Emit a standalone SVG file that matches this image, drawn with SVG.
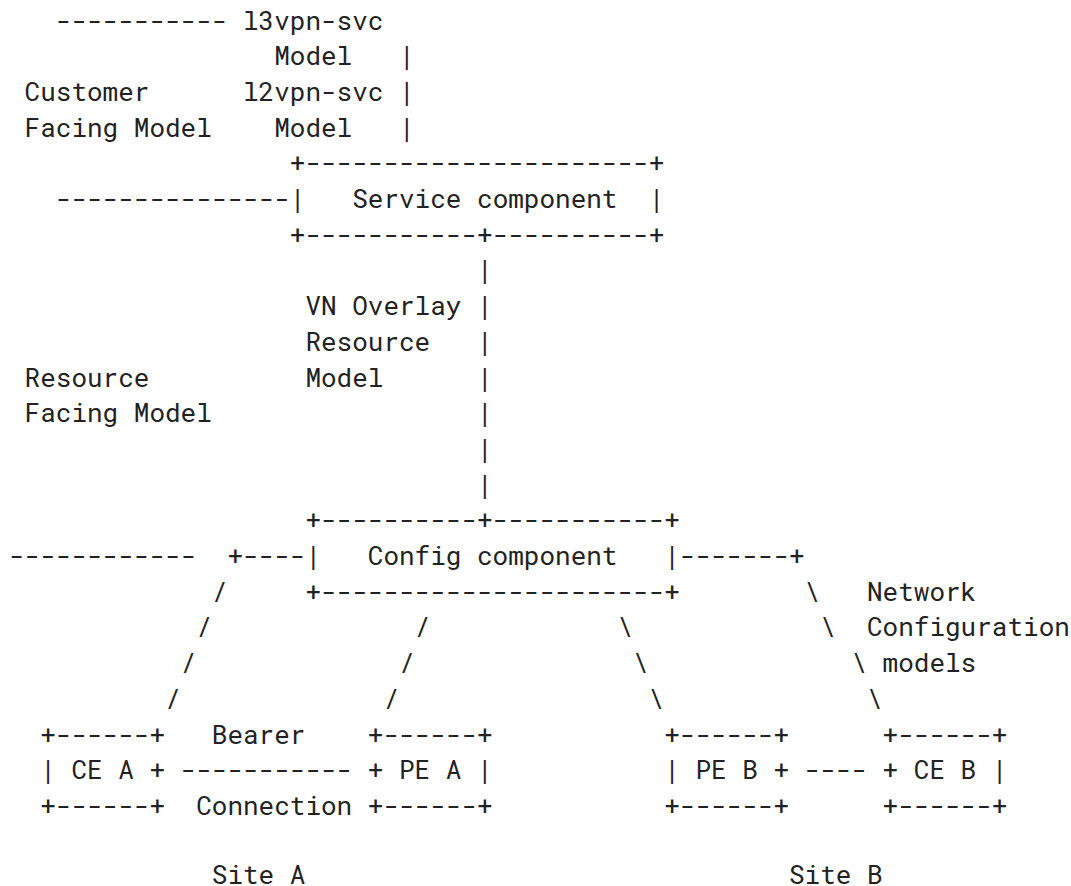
<svg xmlns="http://www.w3.org/2000/svg" width="1071" height="886" viewBox="0 0 1071 886" xml:space="preserve">
<style>
text { font-family: "Roboto Mono", "Liberation Mono", "DejaVu Sans Mono", monospace; font-size: 26px; fill: #222; white-space: pre; }
</style>
<rect width="1071" height="886" fill="#fff"/>
<g id="labels">
<text x="243" y="29.5">l3vpn-svc</text>
<text x="274.2" y="65.2">Model</text>
<text x="24.6" y="100.9">Customer</text>
<text x="243" y="100.9">l2vpn-svc</text>
<text x="24.6" y="136.6">Facing Model</text>
<text x="274.2" y="136.6">Model</text>
<text x="305.4" y="315.1">VN Overlay</text>
<text x="305.4" y="350.8">Resource</text>
<text x="24.6" y="386.5">Resource</text>
<text x="305.4" y="386.5">Model</text>
<text x="24.6" y="422.2">Facing Model</text>
<text x="867" y="600.7">Network</text>
<text x="867" y="636.4">Configuration</text>
<text x="882.6" y="672.1">models</text>
<text x="211.8" y="743.5">Bearer</text>
<text x="196.2" y="814.9">Connection</text>
<text x="211.8" y="884">Site A</text>
<text x="789" y="884">Site B</text>
</g>
<g id="service-component">
<text x="289.8" y="172.3">+----------------------+</text>
<text x="289.8" y="208">|   Service component  |</text>
<text x="289.8" y="243.7">+-----------+----------+</text>
</g>
<g id="config-component">
<text x="305.4" y="529.3">+----------+-----------+</text>
<text x="305.4" y="565">|   Config component   |</text>
<text x="305.4" y="600.7">+----------------------+</text>
</g>
<g id="ce-a">
<text x="40.2" y="743.5">+------+</text>
<text x="40.2" y="779.2">| CE A +</text>
<text x="40.2" y="814.9">+------+</text>
</g>
<g id="pe-a">
<text x="367.8" y="743.5">+------+</text>
<text x="367.8" y="779.2">+ PE A |</text>
<text x="367.8" y="814.9">+------+</text>
</g>
<g id="pe-b">
<text x="664.2" y="743.5">+------+</text>
<text x="664.2" y="779.2">| PE B +</text>
<text x="664.2" y="814.9">+------+</text>
</g>
<g id="ce-b">
<text x="882.6" y="743.5">+------+</text>
<text x="882.6" y="779.2">+ CE B |</text>
<text x="882.6" y="814.9">+------+</text>
</g>
<g id="connectors">
<text x="55.8" y="29.5">-----------</text>
<text x="399" y="65.2">|</text>
<text x="399" y="100.9">|</text>
<text x="399" y="136.6">|</text>
<text x="55.8" y="208">---------------</text>
<text x="477" y="279.4">|</text>
<text x="477" y="315.1">|</text>
<text x="477" y="350.8">|</text>
<text x="477" y="386.5">|</text>
<text x="477" y="422.2">|</text>
<text x="477" y="457.9">|</text>
<text x="477" y="493.6">|</text>
<text x="9" y="565">------------</text>
<text x="227.4" y="565">+----</text>
<text x="679.8" y="565">-------+</text>
<text x="211.8" y="600.7">/</text>
<text x="804.6" y="600.7">\</text>
<text x="196.2" y="636.4">/</text>
<text x="414.6" y="636.4">/</text>
<text x="617.4" y="636.4">\</text>
<text x="820.2" y="636.4">\</text>
<text x="180.6" y="672.1">/</text>
<text x="399" y="672.1">/</text>
<text x="633" y="672.1">\</text>
<text x="851.4" y="672.1">\</text>
<text x="165" y="707.8">/</text>
<text x="383.4" y="707.8">/</text>
<text x="648.6" y="707.8">\</text>
<text x="867" y="707.8">\</text>
<text x="180.6" y="779.2">-----------</text>
<text x="804.6" y="779.2">----</text>
</g>
</svg>
